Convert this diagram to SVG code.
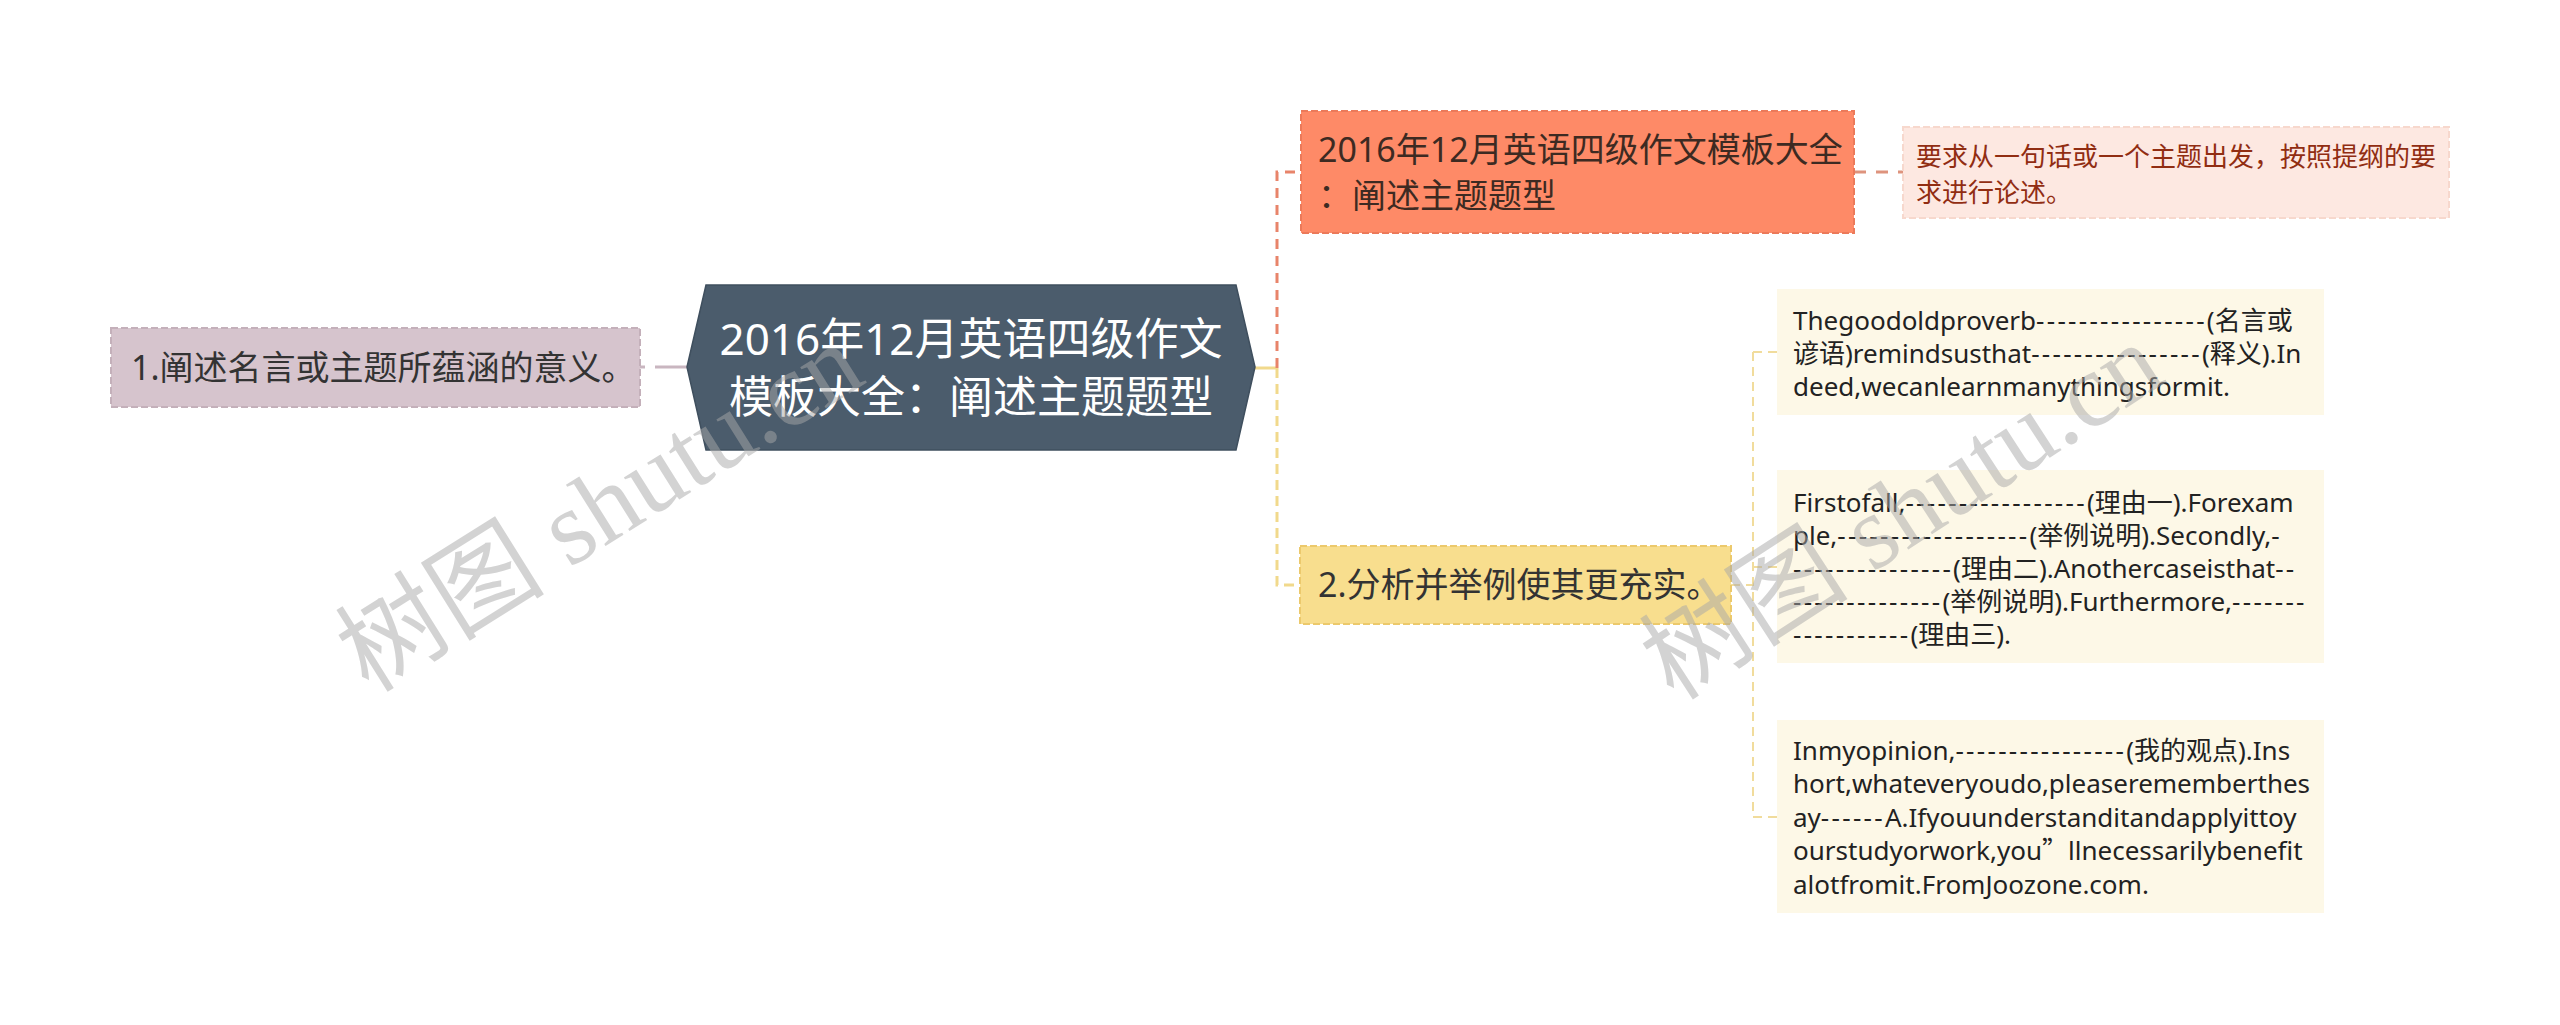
<svg xmlns="http://www.w3.org/2000/svg" width="2560" height="1025" viewBox="0 0 2560 1025">
<style>
text{font-family:"Noto Sans","Noto Sans CJK SC",sans-serif;}
.bg{fill:#ffffff;}
.conn{fill:none;stroke-width:3;}
.c-left{stroke:#c9b6c0;stroke-dasharray:32 10;}
.c-orange{stroke:#e8846a;stroke-dasharray:10 7;}
.c-yellow{stroke:#f1d98c;stroke-dasharray:10 6;}
.c-yellow2{stroke:#f1dc9c;stroke-width:2;stroke-dasharray:9 6;}
.c-pink{stroke:#de937d;stroke-dasharray:12 10;}
.n-left{fill:#d6c4cd;stroke:#c4b0ba;stroke-width:2;stroke-dasharray:7 3;}
.n-orange{fill:#fe8a67;stroke:#ec7a5a;stroke-width:2;stroke-dasharray:7 3;}
.n-yellow{fill:#f8de8e;stroke:#ecc96c;stroke-width:2;stroke-dasharray:7 3;}
.n-pink{fill:#fde8e1;stroke:#f7d8cd;stroke-width:2;stroke-dasharray:7 3;}
.n-cream{fill:#fdf8e7;}
.n-center{fill:#4b5c6c;stroke:#3f4f5e;stroke-width:1.5;}
.t1{font-size:34px;fill:#333333;}
.t-orange{font-size:34px;fill:#3d2a22;}
.t-center{font-size:44px;fill:#ffffff;text-anchor:middle;}
.t-pink{font-size:26px;fill:#912d12;}
.t-box{font-size:26px;fill:#222222;}
.hy{letter-spacing:2.3px;}
.cjk{font-family:"Noto Sans CJK SC",sans-serif;}
.wm{font-family:"Liberation Serif","Noto Sans CJK SC",serif;font-size:105px;fill:#a8a8a8;opacity:0.5;text-anchor:middle;}
</style>
<rect class="bg" x="0" y="0" width="2560" height="1025"/>

<g id="connectors">
  <path class="conn c-left" d="M687,367 H640"/>
  <path class="conn" stroke="#f1d98c" d="M1253,368 H1277"/>
  <path class="conn c-orange" d="M1277,368 V172 H1301"/>
  <path class="conn c-yellow" d="M1277,368 V585 H1300"/>
  <path class="conn c-pink" d="M1854,172 H1903"/>
  <path class="conn c-yellow2" d="M1731,585 H1753"/>
  <path class="conn c-yellow2" d="M1753,352 V817"/>
  <path class="conn c-yellow2" d="M1753,352 H1777"/>
  <path class="conn c-yellow2" d="M1753,567 H1777"/>
  <path class="conn c-yellow2" d="M1753,817 H1777"/>
</g>

<g id="node-center">
  <polygon class="n-center" points="687,367 706,285 1236,285 1255,367 1236,450 706,450"/>
  <text class="t-center" x="971" y="355">2016年12月英语四级作文</text>
  <text class="t-center" x="971" y="413">模板大全：阐述主题题型</text>
</g>

<g id="node-left">
  <rect class="n-left" x="111" y="328" width="529" height="79"/>
  <text class="t1" x="131" y="380">1.阐述名言或主题所蕴涵的意义。</text>
</g>

<g id="node-orange">
  <rect class="n-orange" x="1301" y="111" width="553" height="122"/>
  <text class="t-orange" x="1318" y="162">2016年12月英语四级作文模板大全</text>
  <text class="t-orange" x="1318" y="208">：阐述主题题型</text>
</g>

<g id="node-pink">
  <rect class="n-pink" x="1903" y="127" width="546" height="91"/>
  <text class="t-pink" x="1916" y="166">要求从一句话或一个主题出发，按照提纲的要</text>
  <text class="t-pink" x="1916" y="202">求进行论述。</text>
</g>

<g id="node-yellow">
  <rect class="n-yellow" x="1300" y="546" width="431" height="78"/>
  <text class="t1" x="1318" y="597">2.分析并举例使其更充实。</text>
</g>

<g id="node-box1">
  <rect class="n-cream" x="1777" y="289" width="547" height="126"/>
  <text class="t-box" x="1793" y="330">Thegoodoldproverb<tspan class="hy">----------------</tspan>(名言或</text>
  <text class="t-box" x="1793" y="363">谚语)remindsusthat<tspan class="hy">----------------</tspan>(释义).In</text>
  <text class="t-box" x="1793" y="396">deed,wecanlearnmanythingsformit.</text>
</g>

<g id="node-box2">
  <rect class="n-cream" x="1777" y="470" width="547" height="193"/>
  <text class="t-box" x="1793" y="512">Firstofall,<tspan class="hy">-----------------</tspan>(理由一).Forexam</text>
  <text class="t-box" x="1793" y="545">ple,<tspan class="hy">------------------</tspan>(举例说明).Secondly,<tspan class="hy">-</tspan></text>
  <text class="t-box" x="1793" y="578"><tspan class="hy">---------------</tspan>(理由二).Anothercaseisthat<tspan class="hy">--</tspan></text>
  <text class="t-box" x="1793" y="611"><tspan class="hy">--------------</tspan>(举例说明).Furthermore,<tspan class="hy">-------</tspan></text>
  <text class="t-box" x="1793" y="644"><tspan class="hy">-----------</tspan>(理由三).</text>
</g>

<g id="node-box3">
  <rect class="n-cream" x="1777" y="720" width="547" height="193"/>
  <text class="t-box" x="1793" y="760">Inmyopinion,<tspan class="hy">----------------</tspan>(我的观点).Ins</text>
  <text class="t-box" x="1793" y="793">hort,whateveryoudo,pleaserememberthes</text>
  <text class="t-box" x="1793" y="827">ay<tspan class="hy">------</tspan>A.Ifyouunderstanditandapplyittoy</text>
  <text class="t-box" x="1793" y="860">ourstudyorwork,you<tspan class="cjk">”</tspan>llnecessarilybenefit</text>
  <text class="t-box" x="1793" y="894">alotfromit.FromJoozone.com.</text>
</g>

<g id="watermarks">
  <text class="wm" transform="translate(600,508) rotate(-32)" x="0" y="35">树图 shutu.cn</text>
  <text class="wm" transform="translate(1902,512) rotate(-33)" x="0" y="35">树图 shutu.cn</text>
</g>
</svg>
